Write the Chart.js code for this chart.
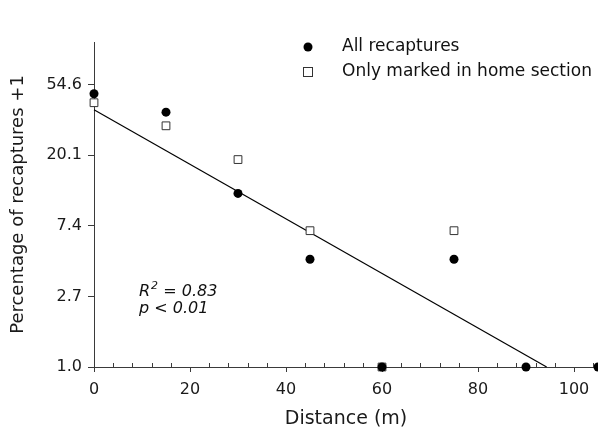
<!DOCTYPE html>
<html>
<head>
<meta charset="utf-8">
<script src="https://cdn.jsdelivr.net/npm/chart.js@4.4.1/dist/chart.umd.min.js"></script>
<style>
  html, body { margin: 0; padding: 0; background: #fff; }
  #wrap { width: 598px; height: 430px; position: relative; }
</style>
</head>
<body>
<div id="wrap"><canvas id="c" width="598" height="430"></canvas></div>
<script>
// ---- Data ----
const distances = [0, 15, 30, 45, 60, 75, 90, 105];
const allRecaptures = [48, 37, 11.7, 4.6, 1.0, 4.6, 1.0, 1.0];          // percentage + 1
const homeDistances = [0, 15, 30, 45, 60, 75];
const homeSection = [42.3, 30.5, 18.9, 6.9, 1.0, 6.9];                  // percentage + 1
const fitX = [0, 94.3];
const fitY = [38.3, 1.0];
const seriesLabels = ['All recaptures', 'Only marked in home section'];
const yTickValues = [1, Math.E, Math.E * Math.E, Math.pow(Math.E, 3), Math.pow(Math.E, 4)];
const xTickValues = [0, 20, 40, 60, 80, 100];
const annotationLines = ['R² = 0.83', 'p < 0.01'];

const FONT = "'DejaVu Sans', 'Liberation Sans', Arial, sans-serif";
const AXIS = '#3a3a3a';

const toPts = (xs, ys) => xs.map((x, i) => ({ x: x, y: ys[i] }));

const extras = {
  id: 'extras',
  afterDraw(chart) {
    const ctx = chart.ctx;
    const xs = chart.scales.x;
    const ca = chart.chartArea;
    ctx.save();
    // minor ticks on x axis (inside)
    ctx.strokeStyle = AXIS;
    ctx.lineWidth = 1;
    for (let v = 4; v <= 104; v += 4) {
      if (v % 20 === 0) continue;
      const px = Math.round(xs.getPixelForValue(v)) + 0.5;
      ctx.beginPath();
      ctx.moveTo(px, ca.bottom);
      ctx.lineTo(px, ca.bottom - 4);
      ctx.stroke();
    }
    // legend
    const lx = 308;
    ctx.fillStyle = '#000';
    ctx.beginPath();
    ctx.arc(lx, 47, 4.5, 0, Math.PI * 2);
    ctx.fill();
    ctx.fillStyle = '#fff';
    ctx.strokeStyle = '#333';
    ctx.fillRect(lx - 5, 67, 10, 10);
    ctx.strokeRect(lx - 5 + 0.5, 67 + 0.5, 9, 9);
    ctx.fillStyle = '#111';
    ctx.font = '17px ' + FONT;
    ctx.textBaseline = 'middle';
    ctx.textAlign = 'left';
    ctx.fillText(seriesLabels[0], 342, 47);
    ctx.fillText(seriesLabels[1], 342, 72);
    // annotation
    ctx.font = 'italic 16px ' + FONT;
    ctx.textBaseline = 'alphabetic';
    const ax = 139;
    ctx.fillText('R', ax, 296);
    const rw = ctx.measureText('R').width;
    ctx.font = 'italic 11px ' + FONT;
    ctx.fillText('2', ax + rw + 1, 289);
    ctx.font = 'italic 16px ' + FONT;
    ctx.fillText(annotationLines[0].slice(2), ax + rw + 8, 296);
    ctx.fillText(annotationLines[1], ax, 313);
    ctx.restore();
  }
};

new Chart(document.getElementById('c'), {
  type: 'scatter',
  data: {
    datasets: [
      {
        label: seriesLabels[0],
        data: toPts(distances, allRecaptures),
        pointStyle: 'circle',
        pointRadius: 4.5,
        pointHoverRadius: 4.5,
        backgroundColor: '#000',
        borderColor: '#000',
        borderWidth: 0,
        clip: false
      },
      {
        label: seriesLabels[1],
        data: toPts(homeDistances, homeSection),
        pointStyle: 'rect',
        pointRadius: 5.5,
        pointHoverRadius: 5.5,
        backgroundColor: '#fff',
        borderColor: '#333',
        borderWidth: 1,
        clip: false
      },
      {
        label: 'fit',
        data: toPts(fitX, fitY),
        showLine: true,
        pointRadius: 0,
        borderColor: '#000',
        borderWidth: 1.2,
        backgroundColor: '#000',
        clip: false
      }
    ]
  },
  options: {
    responsive: false,
    animation: false,
    devicePixelRatio: 1,
    layout: { autoPadding: false, padding: { top: 42, right: 0, left: 0, bottom: 0 } },
    plugins: { legend: { display: false }, tooltip: { enabled: false } },
    scales: {
      x: {
        type: 'linear',
        min: 0,
        max: 105,
        afterBuildTicks(scale) { scale.ticks = xTickValues.map(v => ({ value: v })); },
        afterFit(scale) { scale.height = 63; scale.paddingRight = 0; scale.paddingLeft = 0; },
        border: { color: AXIS, width: 1 },
        grid: { drawOnChartArea: false, drawTicks: true, tickLength: 5, color: AXIS },
        ticks: { font: { family: FONT, size: 16 }, color: '#1a1a1a', padding: 8, maxRotation: 0 },
        title: { display: true, text: 'Distance (m)', font: { family: FONT, size: 19 }, color: '#1a1a1a', padding: { top: 2, bottom: 0 } }
      },
      y: {
        type: 'logarithmic',
        min: 1,
        max: 100,
        afterBuildTicks(scale) { scale.ticks = yTickValues.map(v => ({ value: v })); },
        afterFit(scale) { scale.width = 94; scale.paddingTop = 0; scale.paddingBottom = 0; },
        border: { color: AXIS, width: 1 },
        grid: { drawOnChartArea: false, drawTicks: true, tickLength: 6, color: AXIS },
        ticks: {
          font: { family: FONT, size: 16 },
          color: '#1a1a1a',
          padding: 6,
          callback: (v) => Number(v).toFixed(1)
        },
        title: { display: true, text: 'Percentage of recaptures +1', font: { family: FONT, size: 18 }, color: '#1a1a1a', padding: { top: 8, bottom: 0 } }
      }
    }
  },
  plugins: [extras]
});
</script>
</body>
</html>
